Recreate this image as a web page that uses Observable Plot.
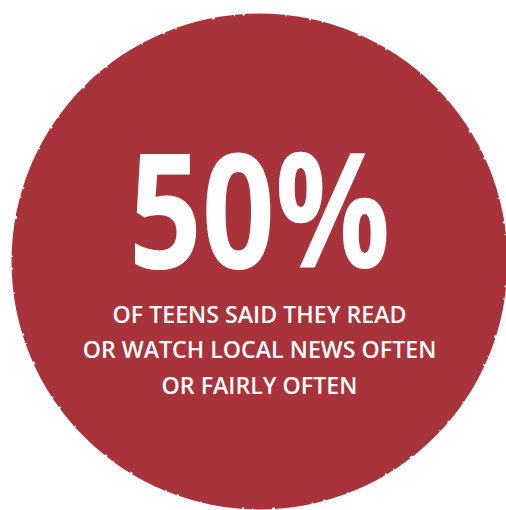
<!DOCTYPE html>
<html>
<head>
<meta charset="utf-8">
<script src="https://cdn.jsdelivr.net/npm/d3@7"></script>
<script src="https://cdn.jsdelivr.net/npm/@observablehq/plot@0.6"></script>
<style>
  html, body { margin: 0; padding: 0; background: #fff; }
  #chart svg { display: block; }
</style>
</head>
<body>
<div id="chart"></div>
<script>
const headline = ["50%"];
const captionLines = [
  "OF TEENS SAID THEY READ",
  "OR WATCH LOCAL NEWS OFTEN",
  "OR FAIRLY OFTEN"
];
const badge = [{label: "badge"}];

const red = "#a9333a";
const W = 506, H = 510;

const chart = Plot.plot({
  width: W,
  height: H,
  margin: 0,
  style: {background: "#fff"},
  marks: [
    Plot.dot(badge, {frameAnchor: "middle", dx: 6, dy: 6, r: 248, fill: red, stroke: "none"}),
    // brush-like rough rim
    Plot.dot(badge, {frameAnchor: "middle", dx: 6, dy: 6, r: 247.5, fill: "none",
      stroke: "#fff", strokeWidth: 2, strokeDasharray: "1 23 2 11 1 37 3 19 1 8 2 41"}),
    Plot.text(headline, {
      text: d => d, frameAnchor: "middle", lineAnchor: "bottom", dx: 6, dy: 12,
      fill: "#fff", fontSize: 160, fontWeight: 700,
      fontFamily: "'Open Sans', sans-serif"
    }),
    Plot.text([captionLines.join("\n")], {
      text: d => d, frameAnchor: "middle", lineAnchor: "bottom", dx: 6, dy: 138,
      lineHeight: 1.52,
      fill: "#fff", fontSize: 23.2, fontWeight: 600,
      fontFamily: "'Open Sans', sans-serif"
    })
  ]
});
// condense the big headline horizontally around its anchor (narrow display face),
// keeping Plot's own dx/dy translation
const ax = W / 2;
const textGroups = chart.querySelectorAll('g[aria-label="text"]');
if (textGroups.length) {
  const g = textGroups[0];
  const prev = g.getAttribute("transform") || "";
  g.setAttribute("transform", `${prev} translate(${ax},0) scale(0.8,1) translate(${-ax},0)`);
}
document.getElementById("chart").appendChild(chart);
</script>
</body>
</html>
